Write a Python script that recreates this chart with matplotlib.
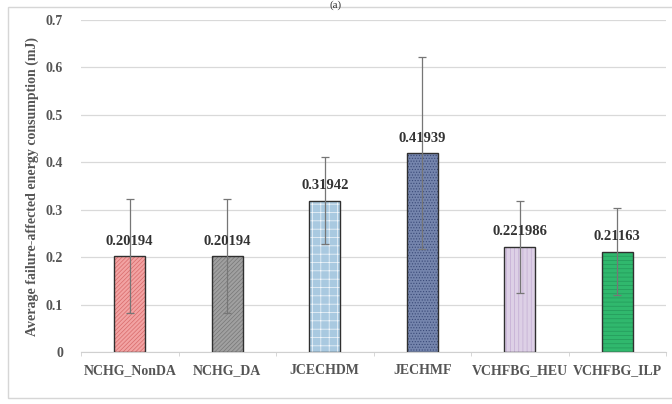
import matplotlib
matplotlib.use("Agg")
import matplotlib.pyplot as plt
from matplotlib.patches import Rectangle
import numpy as np

plt.rcParams['font.family'] = ['Liberation Serif', 'DejaVu Serif']
plt.rcParams['font.weight'] = 'bold'
plt.rcParams['hatch.linewidth'] = 0.5

methods = ['NCHG_NonDA', 'NCHG_DA', 'JCECHDM', 'JECHMF', 'VCHFBG_HEU', 'VCHFBG_ILP']
energy = [0.20194, 0.20194, 0.31942, 0.41939, 0.221986, 0.21163]
energy_labels = ['0.20194', '0.20194', '0.31942', '0.41939', '0.221986', '0.21163']
err = [0.12, 0.12, 0.092, 0.203, 0.097, 0.092]

fills = ['#f2a3a3', '#a0a0a0', '#a9c9e0', '#7585ad', '#ddd0e6', '#30b86d']
hatch_cols = ['#d86a6a', '#777777', '#f4f8fc', '#3a4a78', '#c2abd2', '#24985a']
hatches = ['////////', '////////', '++', '......', '||||', '----']

fig = plt.figure(figsize=(6.72, 4.04), dpi=100)
# outer chart frame
fig.patches.append(Rectangle((8 / 672, 6 / 404), 1.0, 391 / 404, transform=fig.transFigure,
                             fill=False, edgecolor='#d6d6d6', linewidth=1.0))
fig.text(0.5, 0.999, '(a)', ha='center', va='top', fontsize=8, color='#333333',
         fontweight='normal')

ax = fig.add_axes([81 / 672, 52 / 404, 585 / 672, 332 / 404])
x = np.arange(len(methods))
w = 0.32

# hatched fill first, then the dark outline on top
ax.bar(x, energy, w, color=fills, edgecolor=hatch_cols, hatch=hatches, linewidth=0, zorder=2)
ax.bar(x, energy, w, fill=False, edgecolor='#303030', linewidth=1.0, zorder=3)
ax.errorbar(x, energy, yerr=err, fmt='none', ecolor='#767676', elinewidth=0.9,
            capsize=3, capthick=0.9, zorder=4)

for xi, v, lab in zip(x, energy, energy_labels):
    ax.text(xi, v + 0.018, lab, ha='center', va='bottom', fontsize=10.5,
            fontweight='bold', color='#333333', zorder=5)

ax.set_xlim(-0.5, len(methods) - 0.5)
ax.set_ylim(0, 0.7)
ax.set_yticks(np.arange(0, 0.71, 0.1))
ax.set_yticklabels(['0'] + ['%.1f' % t for t in np.arange(0.1, 0.71, 0.1)])
ax.yaxis.grid(True, color='#d9d9d9', linewidth=0.9, zorder=0)
ax.set_axisbelow(True)

ax.set_xticks(x)
ax.set_xticklabels(methods)
ax.set_xticks(np.arange(-0.5, len(methods), 1.0), minor=True)
ax.tick_params(axis='x', which='major', length=0, pad=9, labelsize=10, labelcolor='#555555')
ax.tick_params(axis='x', which='minor', length=3, color='#d0d0d0', direction='out')
ax.tick_params(axis='y', length=0, pad=13, labelsize=10, labelcolor='#555555')
for lab in ax.get_xticklabels() + ax.get_yticklabels():
    lab.set_fontweight('bold')

for s in ['top', 'right', 'left']:
    ax.spines[s].set_visible(False)
ax.spines['bottom'].set_color('#d0d0d0')

ax.set_ylabel('Average failure-affected energy consumption (mJ)', fontsize=10,
              fontweight='bold', color='#555555')
ax.yaxis.set_label_coords(-0.072, 0.5)

fig.savefig('out.png', dpi=100)
